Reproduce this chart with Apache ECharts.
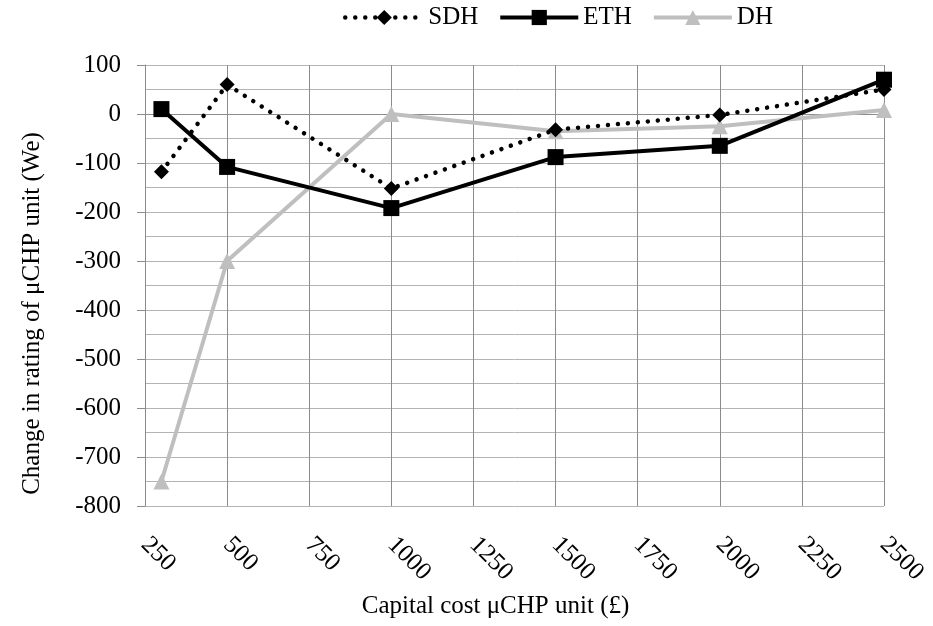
<!DOCTYPE html>
<html><head><meta charset="utf-8">
<script src="https://cdn.jsdelivr.net/npm/echarts@6/dist/echarts.min.js"></script>
<style>html,body{margin:0;padding:0;background:#fff}#c{width:933px;height:626px}</style>
</head><body><div id="c"></div>
<script>
const xValues = [300, 500, 1000, 1500, 2000, 2500];
const sdh = [-118, 60, -152, -32, -2, 50];
const eth = [10, -108, -192, -88, -65, 70];
const dh = [-750, -300, 0, -35, -25, 8];
const seriesNames = ['SDH', 'ETH', 'DH'];

const pair = (arr) => xValues.map((x, i) => [x, arr[i]]);
const font = 'Liberation Serif, Times New Roman, serif';
const dotted = [0.01, 10];

const chart = echarts.init(document.getElementById('c'));
chart.setOption({
  animation: false,
  textStyle: { fontFamily: font },
  legend: {
    top: 0, left: 338,
    itemWidth: 78, itemHeight: 19, itemGap: 20,
    textStyle: { fontFamily: font, fontSize: 25, color: '#000' },
    data: [
      { name: seriesNames[0], lineStyle: { width: 4.5, type: dotted, cap: 'round' } },
      { name: seriesNames[1], lineStyle: { width: 4 } },
      { name: seriesNames[2], lineStyle: { width: 4 } }
    ]
  },
  grid: { left: 145, right: 49, top: 65, bottom: 120 },
  xAxis: {
    type: 'value', min: 250, max: 2500, interval: 250,
    name: 'Capital cost μCHP unit (£)', nameLocation: 'middle', nameGap: 88,
    nameTextStyle: { fontFamily: font, fontSize: 25, color: '#000', padding: [0, 38, 0, 0] },
    axisLine: { show: true, lineStyle: { color: '#8c8c8c', width: 1 } },
    axisTick: { show: false },
    axisLabel: { rotate: -45, margin: 35, fontFamily: font, fontSize: 25, color: '#000',
      formatter: (v) => String(v) },
    splitLine: { show: true, lineStyle: { color: '#8c8c8c', width: 1 } }
  },
  yAxis: {
    type: 'value', min: -800, max: 100, interval: 100,
    name: 'Change in rating of μCHP unit (We)', nameLocation: 'middle', nameGap: 100,
    nameTextStyle: { fontFamily: font, fontSize: 25, color: '#000', padding: [0, 56, 0, 0] },
    axisLine: { show: true, lineStyle: { color: '#8c8c8c', width: 1 } },
    axisTick: { show: true, length: 8, lineStyle: { color: '#8c8c8c' } },
    axisLabel: { margin: 24, fontFamily: font, fontSize: 25, color: '#000' },
    splitLine: { show: true, lineStyle: { color: '#b4b4b4', width: 1 } },
    minorTick: { show: false, splitNumber: 2 },
    minorSplitLine: { show: true, lineStyle: { color: '#b4b4b4', width: 1 } }
  },
  series: [
    {
      name: 'SDH', type: 'line', data: pair(sdh), z: 3,
      symbol: 'diamond', symbolSize: 15,
      lineStyle: { color: '#000', width: 4.5, type: dotted, cap: 'round' },
      itemStyle: { color: '#000' }
    },
    {
      name: 'ETH', type: 'line', data: pair(eth), z: 4,
      symbol: 'rect', symbolSize: 16,
      lineStyle: { color: '#000', width: 4 },
      itemStyle: { color: '#000' }
    },
    {
      name: 'DH', type: 'line', data: pair(dh), z: 2,
      symbol: 'triangle', symbolSize: 16,
      lineStyle: { color: '#bfbfbf', width: 4 },
      itemStyle: { color: '#bfbfbf' }
    }
  ]
});
</script></body></html>
